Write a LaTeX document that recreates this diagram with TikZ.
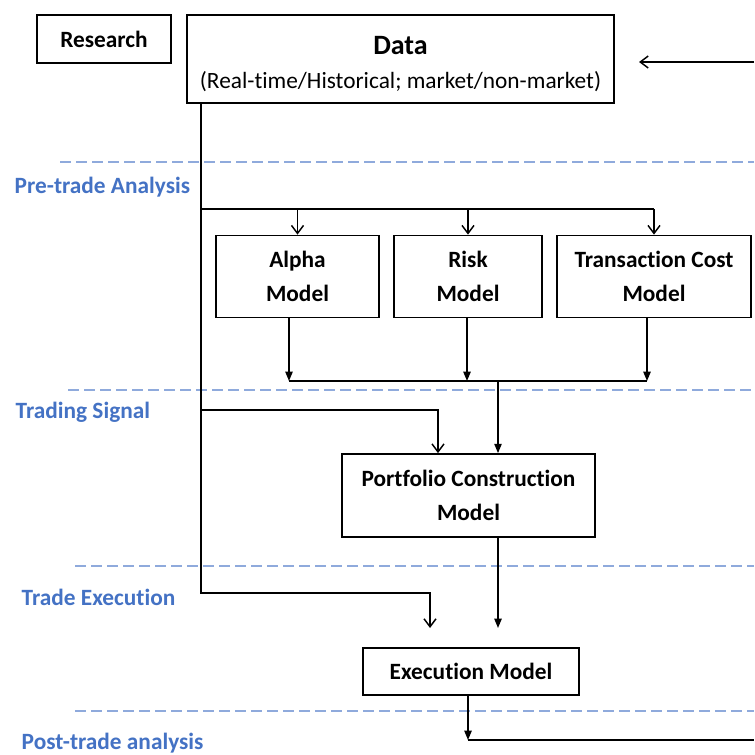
\documentclass[tikz,border=0pt]{standalone}
\usepackage{fontspec}
\setmainfont{Carlito}[Ligatures=CommonOff]
\usepackage{xcolor}
\usepackage{tikz}
\usetikzlibrary{arrows.meta}
\definecolor{stageblue}{RGB}{68,114,196}
\definecolor{sepblue}{RGB}{143,170,220}

\begin{document}
\begin{tikzpicture}[x=0.75pt, y=-0.75pt,
  every node/.style={font=\fontsize{17.5}{26}\selectfont\bfseries},
  box/.style={draw, line width=1.3pt, align=center, inner sep=0pt},
  line/.style={line width=1.1pt},
  openarrow/.style={-{Straight Barb[length=6pt,width=9pt]}},
  fillarrow/.style={-{Triangle[length=7pt,width=5.5pt]}},
  sepline/.style={sepblue, line width=2pt, dash pattern=on 8pt off 4pt},
  stage/.style={stageblue, anchor=west}]
\useasboundingbox (0,0) rectangle (754,755);
% Stage separators and stage names
\foreach \x/\y in {60/162, 68/390, 75/566, 75/711} {
  \draw[sepline] (\x,\y) -- (754,\y);
}
\foreach \x/\y/\txt [count=\i] in {10/187/Pre-trade Analysis, 11/412/Trading Signal,
  17/597/Trade Execution, 17/743/Post-trade analysis} {
  \node[stage] (stage\i) at (\x,\y) {\txt};
}
% Boxes
\node[box, minimum width=100.5pt, minimum height=36pt] (research) at (104,39) {Research};
\node[box, minimum width=320.25pt, minimum height=66pt] (data) at (400.5,59)
  {\rule{0pt}{21pt}\fontsize{21}{26}\selectfont Data\\[0pt]\mdseries (Real-time/Historical; market/non-market)};
\node[box, minimum width=122.25pt, minimum height=61.5pt] (alpha) at (297.5,276.5) {Alpha\\Model};
\node[box, minimum width=111pt, minimum height=61.5pt] (risk) at (468,276.5) {Risk\\Model};
\node[box, minimum width=145.5pt, minimum height=61.5pt] (tcost) at (654,276.5) {Transaction Cost\\Model};
\node[box, minimum width=189.75pt, minimum height=62.25pt] (portfolio) at (468.5,495.5)
  {Portfolio Construction\\Model};
\node[box, minimum width=162pt, minimum height=35.25pt] (execution) at (471,671.5) {Execution Model};
% Free ends
\coordinate (fbstart) at (754,62);
\coordinate (fbend) at (639,62);
\coordinate (trunk) at (201,103);
\coordinate (branch) at (201,209);
\coordinate (sigbranch) at (201,410);
\coordinate (mA) at (289,381);
\coordinate (mR) at (467,381);
\coordinate (mT) at (647,381);
\coordinate (mP) at (498,381);
\coordinate (pIn) at (438,410);
\coordinate (exA) at (430,628);
\coordinate (exB) at (498,628);
\coordinate (post) at (468,740);
\coordinate (postend) at (754,740);
% Feedback into data
\draw[line, openarrow] (fbstart) -- (fbend);
% Data trunk
\draw[line, openarrow] (trunk) |- (exA |- 0,593) -- (exA);
\draw[line] (branch) -- (tcost.north |- branch);
\foreach \n in {alpha, risk, tcost} {
  \draw[line, openarrow] (\n.north |- branch) -- (\n.north);
}
\draw[line, openarrow] (sigbranch) -| (pIn |- portfolio.north);
% Models into portfolio
\foreach \m/\n in {mA/alpha, mR/risk, mT/tcost} {
  \draw[line, fillarrow] (\m |- \n.south) -- (\m);
}
\draw[line] (mA) -- (mT);
\draw[line, fillarrow] (mP) -- (mP |- portfolio.north);
% Portfolio to execution
\draw[line, fillarrow] (mP |- portfolio.south) -- (exB);
\draw[line, fillarrow] (post |- execution.south) -- (post);
\draw[line] (post) -- (postend);
\end{tikzpicture}
\end{document}
